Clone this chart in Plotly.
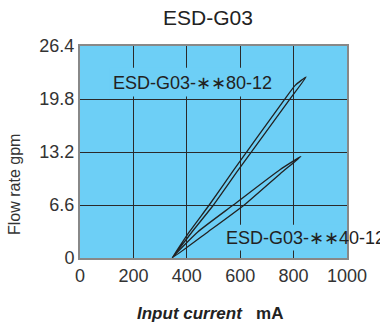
import plotly.graph_objects as go

# Data (input current mA, flow rate gpm)
curve80_current = [345, 410, 484, 576, 765, 806, 847, 784, 593, 500, 420, 345]
curve80_flow = [0.0, 3.27, 6.6, 10.96, 19.7, 21.5, 22.55, 19.7, 10.96, 6.6, 3.27, 0.0]

curve40_current = [345, 442, 574, 750, 827, 750, 615, 480, 345]
curve40_flow = [0.0, 3.27, 6.6, 11.03, 12.64, 10.5, 6.6, 3.27, 0.0]

x_ticks = [0, 200, 400, 600, 800, 1000]
y_ticks = [0, 6.6, 13.2, 19.8, 26.4]
y_tick_labels = ["0", "6.6", "13.2", "19.8", "26.4"]

label80 = "ESD-G03-∗∗80-12"
label40 = "ESD-G03-∗∗40-12"

BG = "#6DCFF6"
FONT = "Liberation Sans, Arial, sans-serif"
PLOT_H = 326 - 46 - 68

fig = go.Figure()
for xs, ys in [(curve80_current, curve80_flow), (curve40_current, curve40_flow)]:
    fig.add_trace(go.Scatter(x=xs, y=ys, mode="lines",
                             line=dict(color="#222222", width=1.3, shape="spline", smoothing=0.5),
                             showlegend=False, hoverinfo="skip"))

# background patches behind labels (hide gridlines)
fig.add_shape(type="rect", xref="x", yref="y", x0=112, x1=731, y0=20.1, y1=23.7,
              fillcolor=BG, line=dict(width=0), layer="between")
fig.add_shape(type="rect", xref="x", yref="y", x0=525, x1=1000, y0=0.94, y1=4.13,
              fillcolor=BG, line=dict(width=0), layer="between")

fig.add_annotation(x=422, y=21.8, xref="x", yref="y", text=label80, showarrow=False,
                   font=dict(family=FONT, size=18, color="#222222"),
                   xanchor="center", yanchor="middle")
fig.add_annotation(x=(224 - 80) / 0.26667, y=2.46, xref="x", yref="y", text=label40,
                   showarrow=False, font=dict(family=FONT, size=18, color="#222222"),
                   xanchor="left", yanchor="middle")

# y axis title (paper coords are relative to the plot area)
fig.add_annotation(x=(14 - 80) / 267, y=(258 - 185) / PLOT_H, xref="paper", yref="paper",
                   text="Flow rate gpm", showarrow=False, textangle=-90,
                   font=dict(family=FONT, size=16, color="#333333"),
                   xanchor="center", yanchor="middle")
# x axis title
fig.add_annotation(x=(210 - 80) / 267, y=-(313 - 258) / PLOT_H, xref="paper", yref="paper",
                   text="<b><i>Input current</i>&nbsp;&nbsp;&nbsp;mA</b>", showarrow=False,
                   font=dict(family=FONT, size=17, color="#222222"),
                   xanchor="center", yanchor="middle")
fig.update_layout(
    width=380, height=326,
    margin=dict(l=80, r=33, t=46, b=68),
    paper_bgcolor="white", plot_bgcolor=BG,
    title=dict(text="ESD-G03", x=208 / 380, xref="container", xanchor="center",
               y=1 - 18 / 326, yref="container", yanchor="middle",
               font=dict(family=FONT, size=21, color="#222222")),
    font=dict(family=FONT, color="#333333"),
    xaxis=dict(range=[0, 1000], tickvals=x_ticks, showgrid=True, gridcolor="#2a2a2a",
               gridwidth=1, showline=True, linecolor="#888888", linewidth=2, mirror=True,
               ticks="", tickfont=dict(size=18, color="#333333"), zeroline=False,
               automargin=False),
    yaxis=dict(range=[0, 26.4], tickvals=y_ticks, ticktext=y_tick_labels, showgrid=True,
               gridcolor="#2a2a2a", gridwidth=1, showline=True, linecolor="#888888",
               linewidth=2, mirror=True, ticks="", zeroline=False, automargin=False,
               tickfont=dict(size=18, color="#333333")),
)

fig.write_html("out.html")
